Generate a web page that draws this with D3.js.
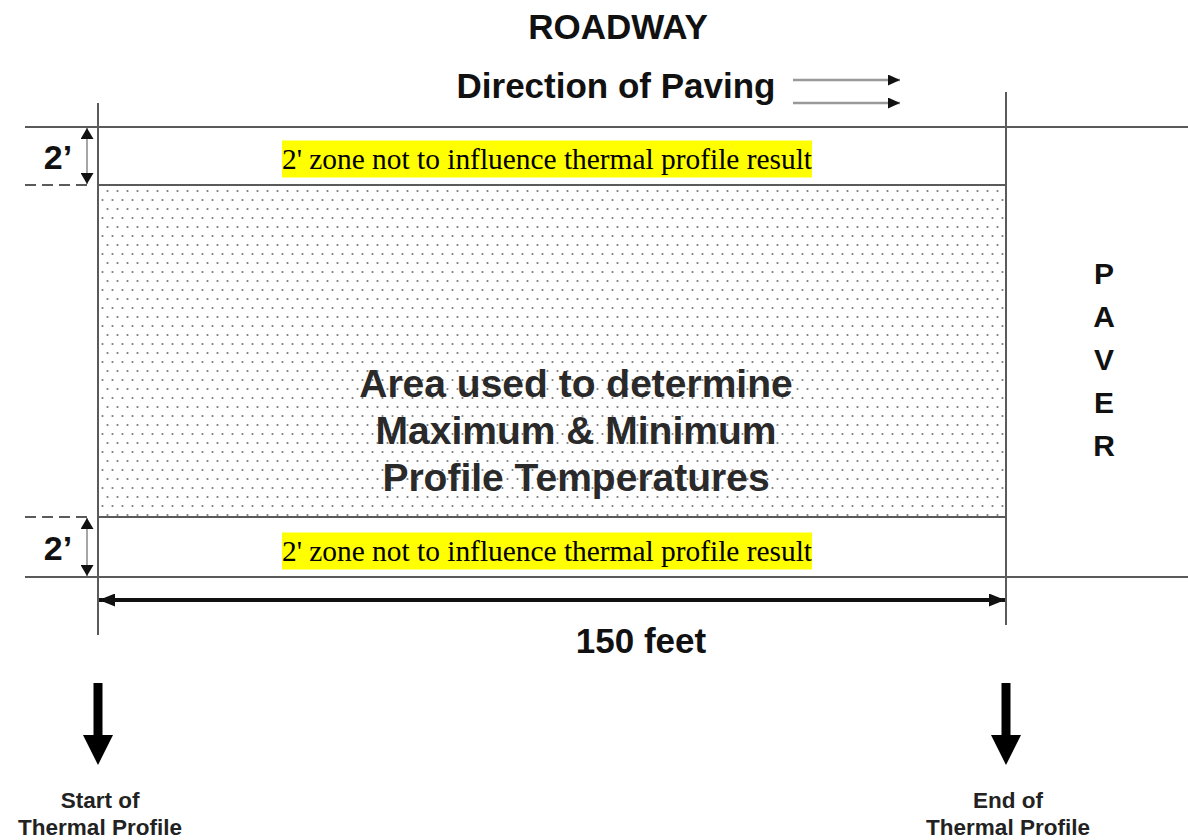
<!DOCTYPE html>
<html>
<head>
<meta charset="utf-8">
<script src="https://cdn.jsdelivr.net/npm/d3@7"></script>
<style>
  body { margin: 0; background: #fff; }
  svg { display: block; }
  .sans { font-family: "Liberation Sans", Arial, sans-serif; font-weight: bold; fill: #111; }
  .serif { font-family: "Liberation Serif", "Times New Roman", serif; fill: #000; }
</style>
</head>
<body>
<div id="chart"></div>
<script>
// profile length along the road (feet) and zones across the lane (feet)
const profileLength = [0, 150];
const laneZones = [0, 2, 10, 12];
const edgeZones = [[0, 2], [10, 12]];
const zoneLabel = "2’";
const edgeNote = "2' zone not to influence thermal profile result";
const areaLabel = ["Area used to determine", "Maximum & Minimum", "Profile Temperatures"];
const paverLetters = ["P", "A", "V", "E", "R"];
const lengthLabel = "150 feet";
const markers = [
  { pos: 0, lines: ["Start of", "Thermal Profile"] },
  { pos: 150, lines: ["End of", "Thermal Profile"] },
];

const width = 1188;
const height = 840;

// Scales
const x = d3.scaleLinear().domain(profileLength).range([98, 1006]);
const y = d3.scaleLinear().domain(laneZones).range([127, 185, 517, 577]);

const svg = d3.select("#chart").append("svg")
  .attr("width", width)
  .attr("height", height);

const defs = svg.append("defs");

// dotted fill of the measured area
const pat = defs.append("pattern")
  .attr("id", "dots")
  .attr("patternUnits", "userSpaceOnUse")
  .attr("width", 10)
  .attr("height", 18);
pat.append("circle").attr("cx", 2.5).attr("cy", 2).attr("r", 1.1).attr("fill", "#7a7a7a");
pat.append("circle").attr("cx", 7.5).attr("cy", 11).attr("r", 1.1).attr("fill", "#7a7a7a");

// arrow heads
function head(id, w, h, fill) {
  defs.append("marker")
    .attr("id", id)
    .attr("viewBox", `0 0 ${w} ${h}`)
    .attr("refX", w)
    .attr("refY", h / 2)
    .attr("markerWidth", w)
    .attr("markerHeight", h)
    .attr("markerUnits", "userSpaceOnUse")
    .attr("orient", "auto-start-reverse")
    .append("path")
    .attr("d", `M0,0L${w},${h / 2}L0,${h}Z`)
    .attr("fill", fill);
}
head("small", 11, 13, "#111");
head("dir", 12, 11, "#111");
head("dim", 16, 13, "#111");

const lineColor = "#5a5a5a";

// Title
svg.append("text").attr("class", "sans")
  .attr("x", 618).attr("y", 39)
  .attr("text-anchor", "middle")
  .attr("font-size", 35)
  .text("ROADWAY");

svg.append("text").attr("class", "sans")
  .attr("x", 616).attr("y", 98)
  .attr("text-anchor", "middle")
  .attr("font-size", 35)
  .text("Direction of Paving");

// direction arrows
svg.append("g").selectAll("line")
  .data([80, 103])
  .join("line")
  .attr("x1", 793).attr("x2", 900)
  .attr("y1", (d) => d).attr("y2", (d) => d)
  .attr("stroke", "#999")
  .attr("stroke-width", 2.5)
  .attr("marker-end", "url(#dir)");

// Measured area
svg.append("rect")
  .attr("x", x(0)).attr("y", y(2))
  .attr("width", x(150) - x(0))
  .attr("height", y(10) - y(2))
  .attr("fill", "url(#dots)");

const gLines = svg.append("g")
  .attr("stroke", lineColor)
  .attr("stroke-width", 2);

// outer lane edges
gLines.selectAll(".edge")
  .data([0, 12])
  .join("line")
  .attr("class", "edge")
  .attr("x1", 25).attr("x2", width)
  .attr("y1", (d) => y(d)).attr("y2", (d) => y(d));

// inner zone boundaries
gLines.selectAll(".inner")
  .data([2, 10])
  .join("line")
  .attr("class", "inner")
  .attr("x1", x(0)).attr("x2", x(150))
  .attr("y1", (d) => y(d)).attr("y2", (d) => y(d));

gLines.selectAll(".dash")
  .data([2, 10])
  .join("line")
  .attr("class", "dash")
  .attr("x1", 25).attr("x2", 92)
  .attr("y1", (d) => y(d)).attr("y2", (d) => y(d))
  .attr("stroke-dasharray", "11,6");

// start / end verticals
gLines.append("line")
  .attr("x1", x(0)).attr("x2", x(0))
  .attr("y1", 103).attr("y2", 635);
gLines.append("line")
  .attr("x1", x(150)).attr("x2", x(150))
  .attr("y1", 92).attr("y2", 625);

// 2' dimension arrows and edge notes
edgeZones.forEach(([a, b]) => {
  svg.append("line")
    .attr("x1", 87).attr("x2", 87)
    .attr("y1", y(a) + 1).attr("y2", y(b) - 1)
    .attr("stroke", "#888")
    .attr("stroke-width", 1.5)
    .attr("marker-start", "url(#small)")
    .attr("marker-end", "url(#small)");

  svg.append("text").attr("class", "sans")
    .attr("x", 58).attr("y", (y(a) + y(b)) / 2 + 13)
    .attr("text-anchor", "middle")
    .attr("font-size", 34)
    .text(zoneLabel);

  // highlighted note, sitting just above the lower boundary of the zone
  const bottom = y(b) - 7.5;
  svg.append("rect")
    .attr("x", 282).attr("y", bottom - 37)
    .attr("width", 530).attr("height", 37)
    .attr("fill", "#ffff00");
  svg.append("text").attr("class", "serif")
    .attr("x", 547)
    .attr("y", bottom - 9)
    .attr("text-anchor", "middle")
    .attr("font-size", 29.4)
    .text(edgeNote);
});

// central label
svg.append("text").attr("class", "sans")
  .attr("font-size", 39)
  .attr("text-anchor", "middle")
  .style("fill", "#2a2a2a")
  .selectAll("tspan")
  .data(areaLabel)
  .join("tspan")
  .attr("x", 576)
  .attr("y", (d, i) => 397 + i * 47)
  .text((d) => d);

// PAVER
svg.append("g").selectAll("text")
  .data(paverLetters)
  .join("text")
  .attr("class", "sans")
  .attr("x", 1104)
  .attr("y", (d, i) => 284 + i * 43)
  .attr("text-anchor", "middle")
  .attr("font-size", 30)
  .text((d) => d);

// 150 ft dimension
svg.append("line")
  .attr("x1", x(0) + 1).attr("x2", x(150) - 1)
  .attr("y1", 600).attr("y2", 600)
  .attr("stroke", "#111")
  .attr("stroke-width", 4)
  .attr("marker-start", "url(#dim)")
  .attr("marker-end", "url(#dim)");

svg.append("text").attr("class", "sans")
  .attr("x", 641).attr("y", 653)
  .attr("text-anchor", "middle")
  .attr("font-size", 35)
  .text(lengthLabel);

// start / end markers
const gMark = svg.append("g").selectAll("g")
  .data(markers)
  .join("g")
  .attr("transform", (d) => `translate(${x(d.pos)},0)`);

gMark.append("path")
  .attr("d", "M-4.5,683H4.5V735H15L0,765L-15,735H-4.5Z")
  .attr("fill", "#000");

gMark.append("text")
  .attr("class", "sans")
  .attr("text-anchor", "middle")
  .attr("font-size", 22.5)
  .style("fill", "#222")
  .selectAll("tspan")
  .data((d) => d.lines)
  .join("tspan")
  .attr("x", 2)
  .attr("y", (d, i) => 808 + i * 27)
  .text((d) => d);
</script>
</body>
</html>
